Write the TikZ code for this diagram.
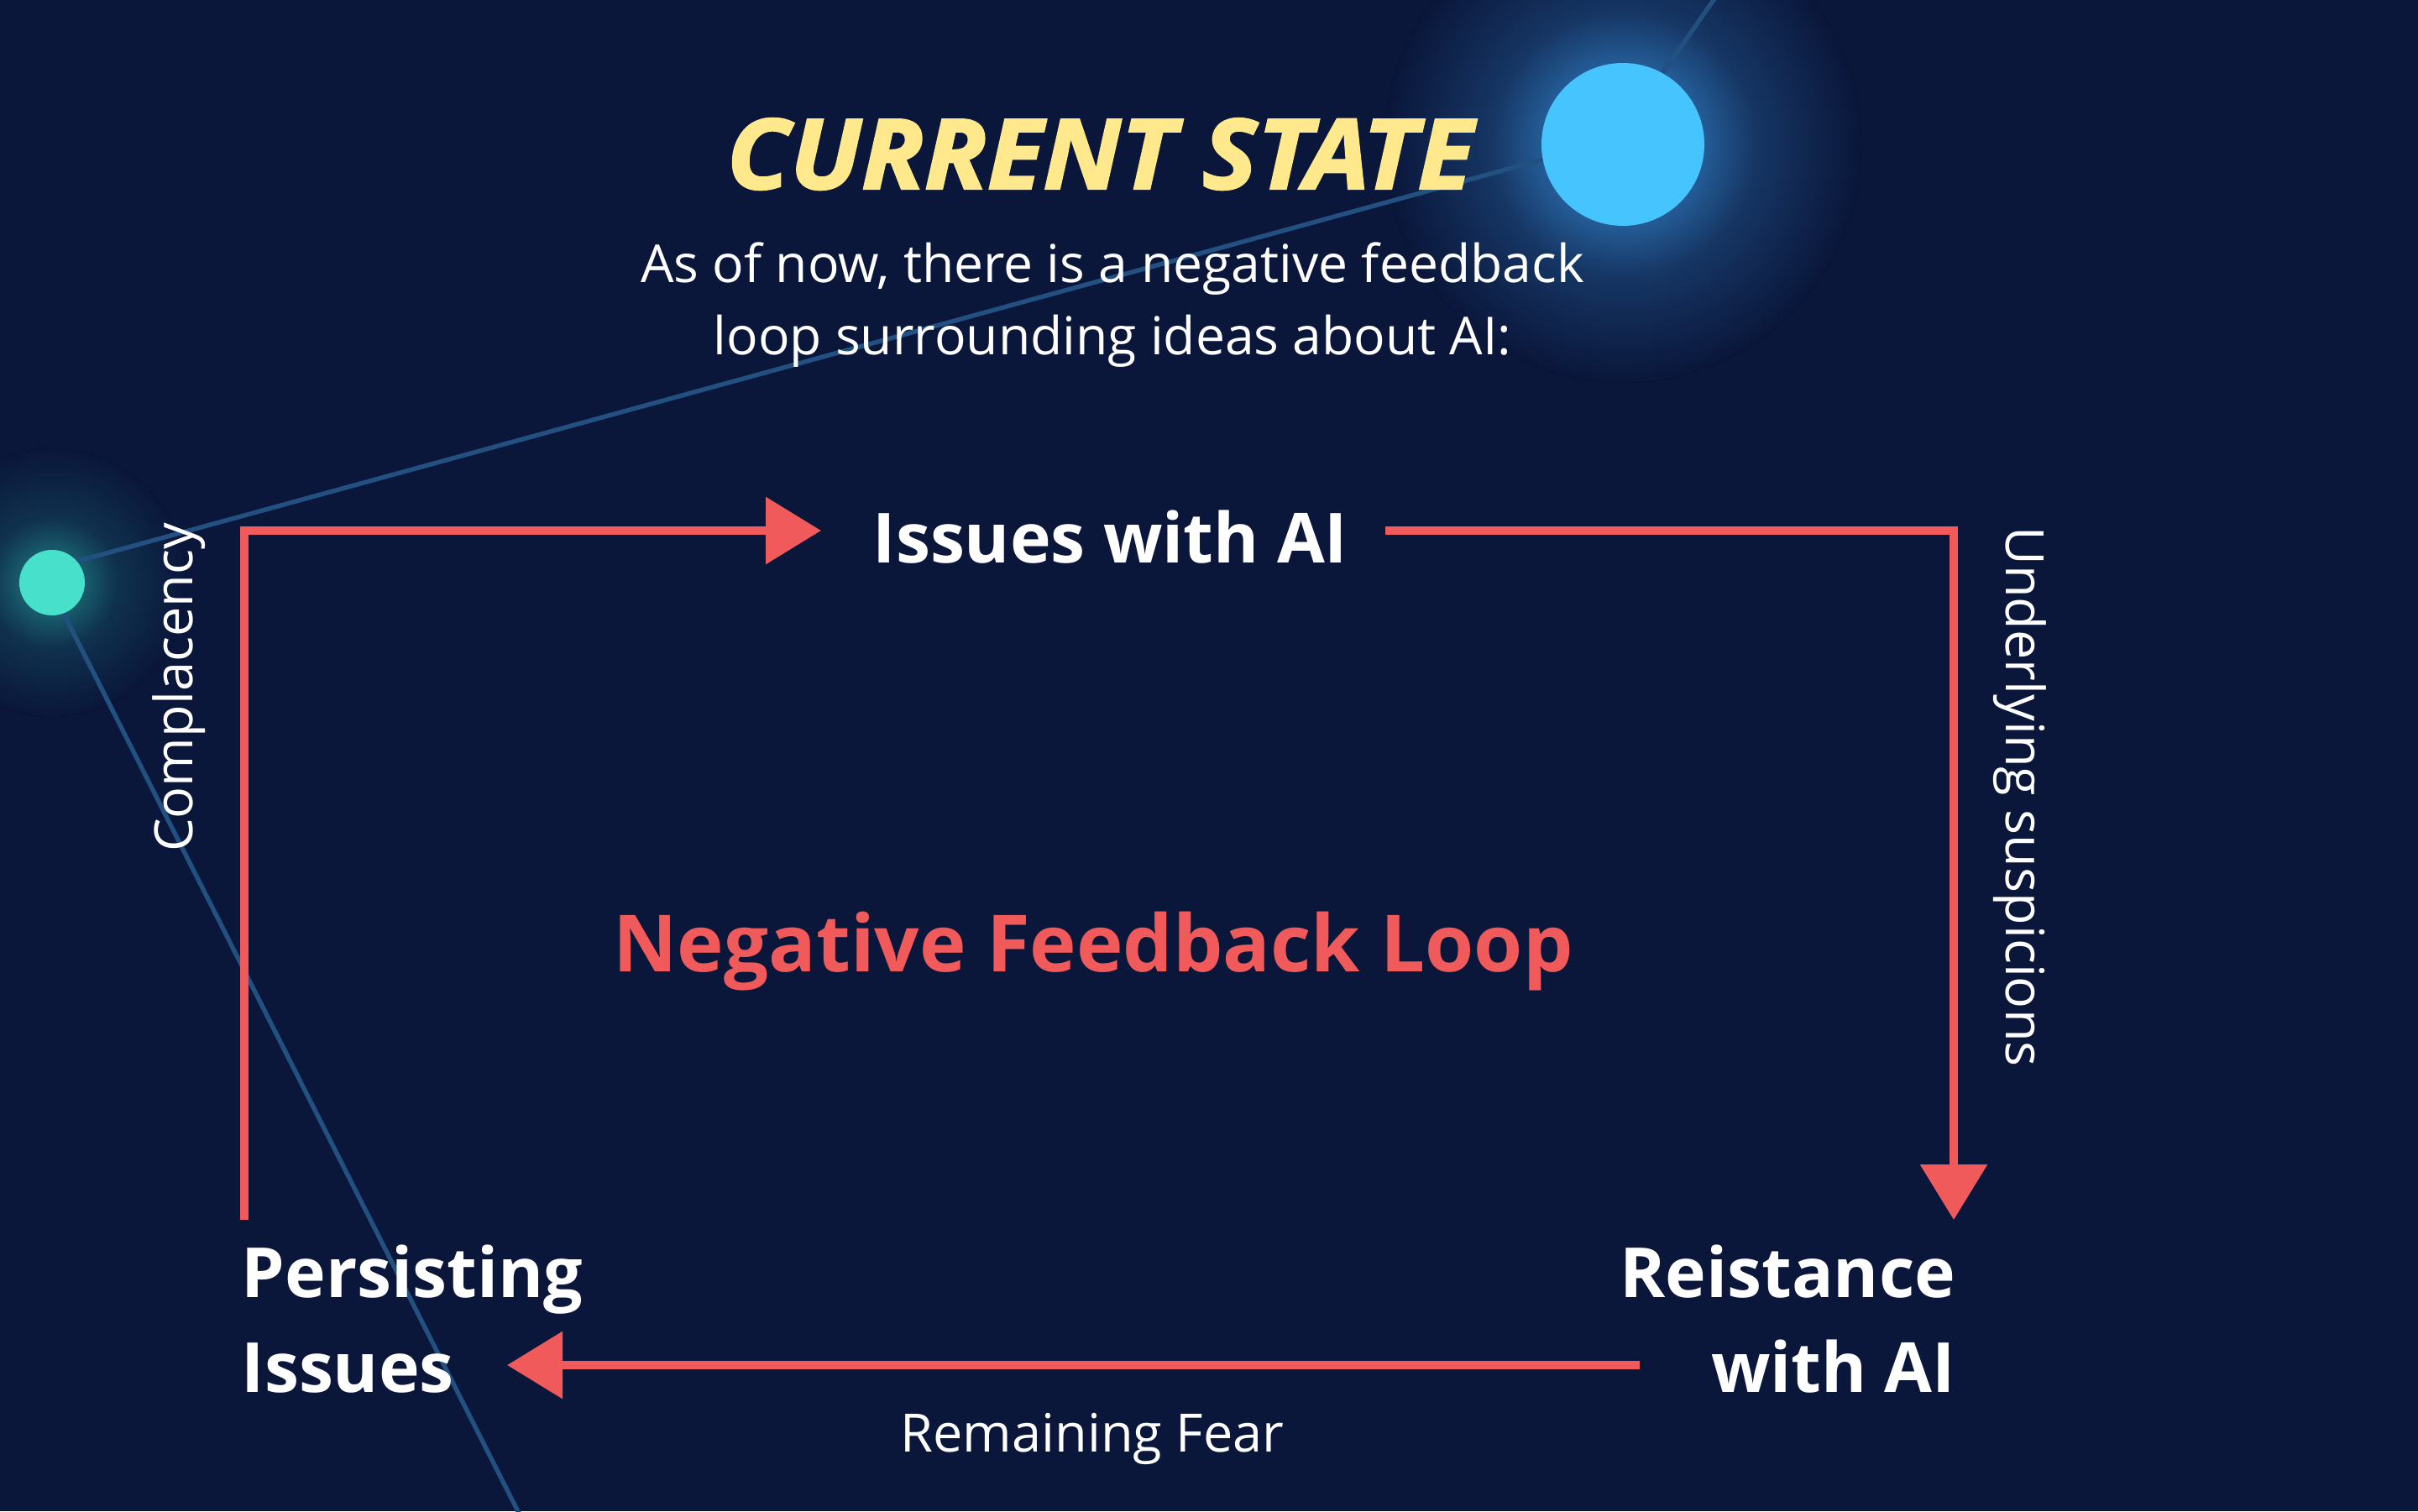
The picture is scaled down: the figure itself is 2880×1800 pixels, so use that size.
\documentclass[tikz,border=0pt]{standalone}
\usepackage{fontspec}
\setmainfont{Open Sans}
\newfontfamily\titlefont[BoldItalicFeatures={FakeBold=2,FakeStretch=1.06}]{Open Sans}
\usetikzlibrary{arrows.meta}

\definecolor{bg}{RGB}{10,22,58}
\definecolor{loopred}{RGB}{240,90,90}
\definecolor{ttl}{RGB}{255,233,140}
\definecolor{starblue}{RGB}{69,196,254}
\definecolor{starteal}{RGB}{75,235,210}
\definecolor{constel}{RGB}{34,80,128}
\definecolor{glowblue}{RGB}{36,92,150}
\definecolor{glowteal}{RGB}{24,92,108}
\colorlet{glowbluemid}{glowblue!45!bg}
\colorlet{glowtealmid}{glowteal!40!bg}

\pgfdeclareradialshading{blueglow}{\pgfpoint{0bp}{0bp}}{color(0bp)=(glowblue); color(8.5bp)=(glowblue); color(14bp)=(glowbluemid); color(25bp)=(bg); color(50bp)=(bg)}
\pgfdeclareradialshading{tealglow}{\pgfpoint{0bp}{0bp}}{color(0bp)=(glowteal); color(6bp)=(glowteal); color(12bp)=(glowtealmid); color(25bp)=(bg); color(50bp)=(bg)}

\tikzset{
  constline/.style={draw=constel, line width=1.35pt},
  loopedge/.style={draw=loopred, line width=2.5pt, line join=miter,
    -{Triangle[length=16.5pt,width=19.5pt]}},
  boldlbl/.style={inner sep=0pt, text=white, font=\bfseries\fontsize{20.6pt}{28.25pt}\selectfont},
  smalllbl/.style={inner sep=0pt, text=white, font=\fontsize{15.75pt}{19pt}\selectfont},
}

\begin{document}
\begin{tikzpicture}[x=0.25pt, y=-0.25pt]
  \useasboundingbox (0,0) rectangle (2880,1800);
  \fill[bg] (0,0) rectangle (2880,1800);
  \begin{scope}
    \clip (0,0) rectangle (2880,1800);
    % glows
    \fill[shading=blueglow] (1933,172) circle[radius=71pt];
    \fill[shading=tealglow] (62,694) circle[radius=40pt];
    % constellation lines
    \coordinate (gv) at (50,680);
    \coordinate (bv) at (1925,166);
    \coordinate (topend) at (2055,-20);
    \coordinate (botend) at (632,1830);
    \draw[constline] (botend) -- (gv) -- (bv) -- (topend);
    % stars
    \node[circle, fill=starblue, minimum size=48.5pt, inner sep=0pt] (bluestar) at (1933,172) {};
    \node[circle, fill=starteal, fill opacity=0.93, minimum size=19.5pt, inner sep=0pt] (tealstar) at (62,694) {};
  \end{scope}

  % title and subtitle
  \node[inner sep=0pt, anchor=base, text=ttl, font=\titlefont\bfseries\itshape\fontsize{29pt}{34pt}\selectfont] (title) at (1310,225) {CURRENT STATE};
  \node[inner sep=0pt, anchor=base, text=white, align=center, font=\fontsize{15.6pt}{21.5pt}\selectfont] (subtitle) at (1325,422) {As of now, there is a negative feedback\\loop surrounding ideas about AI:};

  % loop nodes (base anchor = baseline of the last line)
  \node[boldlbl, anchor=base west] (issues) at (1039,670) {Issues with AI};
  \node[boldlbl, anchor=base east, align=right] (resist) at (2330,1658) {Reistance\\with AI};
  \node[boldlbl, anchor=base west, align=left] (persist) at (287,1658) {Persisting\\Issues};
  \node[inner sep=0pt, anchor=base, text=loopred, font=\bfseries\fontsize{23.5pt}{28pt}\selectfont] (loopname) at (1302,1157) {Negative Feedback Loop};

  % loop connectors
  \draw[loopedge] ([shift={(1pt,51.25pt)}]persist.base west) |- ([shift={(-15.25pt,9.5pt)}]issues.base west);
  \draw[loopedge] ([shift={(11pt,9.5pt)}]issues.base east) -| ([shift={(-0.75pt,51.25pt)}]resist.base east);
  \draw[loopedge] ([shift={(-94.25pt,8pt)}]resist.base east) -- ([shift={(79.25pt,8pt)}]persist.base west);

  % connector labels
  \node[smalllbl, rotate=90] (complacency) at (213,819) {Complacency};
  \node[smalllbl, rotate=-90] (suspicions) at (2406,949) {Underlying suspicions};
  \node[smalllbl, anchor=base] (fear) at (1301,1729) {Remaining Fear};
\end{tikzpicture}
\end{document}
